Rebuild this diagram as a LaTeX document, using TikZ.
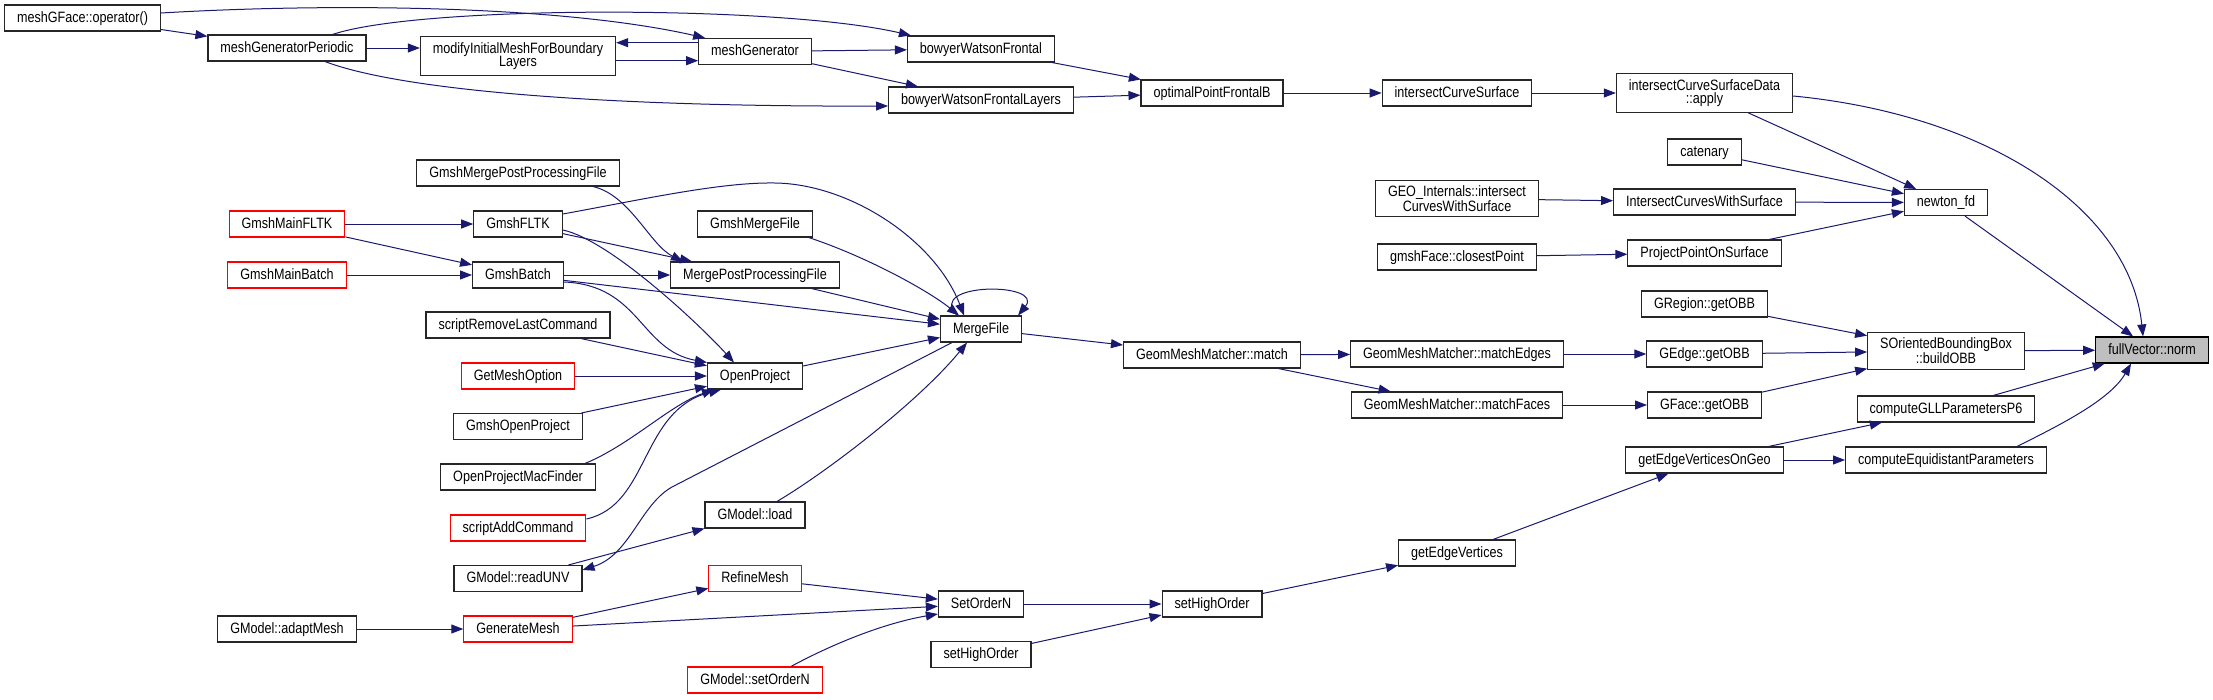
\documentclass[tikz,border=0pt]{standalone}
\usepackage{fontspec}
\setmainfont{Liberation Sans}[FakeStretch=0.84]
\usepackage{tikz}
\usetikzlibrary{arrows.meta, positioning, calc}
\usepackage{xcolor}
\definecolor{edgeblue}{HTML}{191970}
\definecolor{rootgray}{HTML}{BFBFBF}
\tikzstyle{fn} = [rectangle, draw=black!85, line width=1.1pt, fill=white, minimum height=26pt, inner xsep=12.5pt, inner ysep=6pt, text height=11pt, text depth=3pt, font=\fontsize{15}{13.5}\selectfont]
\tikzstyle{fntwo} = [rectangle, draw=black!85, line width=1.1pt, fill=white, inner xsep=12.5pt, inner ysep=5.5pt, align=center, font=\fontsize{15}{13.5}\selectfont]
\tikzstyle{fnred} = [fn, draw=red]
\tikzstyle{root} = [fn, draw=black, fill=rootgray]
\tikzstyle{arrow} = [line width=1pt, draw=edgeblue, -{Triangle[length=12pt,width=9pt]}]

\begin{document}
\begin{tikzpicture}[x=1pt, y=-1pt]
        \useasboundingbox (0,0) rectangle (2213,699);

        % Mesh generators
        \node (mgfop) [fn] at (82.5,18) {meshGFace::operator()};
        \node (mgperiodic) [fn] at (287,48) {meshGeneratorPeriodic};
        \node (modinit) [fntwo] at (518,56) {modifyInitialMeshForBoundary\\Layers};
        \node (meshgen) [fn] at (755,51.5) {meshGenerator};
        \node (bwfrontal) [fn] at (981,49) {bowyerWatsonFrontal};
        \node (bwlayers) [fn] at (981,100) {bowyerWatsonFrontalLayers};
        \node (optfrontal) [fn] at (1212,93) {optimalPointFrontalB};
        \node (icsurf) [fn] at (1457,93) {intersectCurveSurface};
        \node (icsapply) [fntwo] at (1704.5,93) {intersectCurveSurfaceData\\::apply};

        % GUI and batch callers
        \node (mainfltk) [fnred] at (287,224) {GmshMainFLTK};
        \node (mainbatch) [fnred] at (287,275) {GmshMainBatch};
        \node (adaptmesh) [fn] at (287,629) {GModel::adaptMesh};
        \node (gmergepost) [fn] at (518,173) {GmshMergePostProcessingFile};
        \node (gfltk) [fn] at (518,224) {GmshFLTK};
        \node (gbatch) [fn] at (518,275) {GmshBatch};
        \node (srmlast) [fn] at (518,325) {scriptRemoveLastCommand};
        \node (getmeshopt) [fnred] at (518,376) {GetMeshOption};
        \node (gopenproj) [fn] at (518,426.5) {GmshOpenProject};
        \node (opmacfinder) [fn] at (518,477) {OpenProjectMacFinder};
        \node (saddcmd) [fnred] at (518,528) {scriptAddCommand};
        \node (readunv) [fn] at (518,578.5) {GModel::readUNV};
        \node (genmesh) [fnred] at (518,629) {GenerateMesh};
        \node (gmergefile) [fn] at (755,224) {GmshMergeFile};
        \node (mergepost) [fn] at (755,275) {MergePostProcessingFile};
        \node (openproj) [fn] at (755,376) {OpenProject};
        \node (gmload) [fn] at (755,515) {GModel::load};
        \node (refine) [fnred] at (755,578.5) {RefineMesh};
        \node (gmsetorder) [fnred] at (755,680) {GModel::setOrderN};
        \node (mergefile) [fn] at (981,329) {MergeFile};
        \node (setordern) [fn] at (981,604) {SetOrderN};
        \node (sethob) [fn] at (981,654.5) {setHighOrder};
        \node (gmmmatch) [fn] at (1212,355) {GeomMeshMatcher::match};
        \node (sethoa) [fn] at (1212,604) {setHighOrder};

        % Geometry side
        \node (geoint) [fntwo] at (1457,198.5) {GEO\_Internals::intersect\\CurvesWithSurface};
        \node (gfclosest) [fn] at (1457,257) {gmshFace::closestPoint};
        \node (matchedges) [fn] at (1457,354) {GeomMeshMatcher::matchEdges};
        \node (matchfaces) [fn] at (1457,405) {GeomMeshMatcher::matchFaces};
        \node (getedgev) [fn] at (1457,553) {getEdgeVertices};
        \node (catenary) [fn] at (1704.5,152) {catenary};
        \node (icws) [fn] at (1704.5,202) {IntersectCurvesWithSurface};
        \node (projpt) [fn] at (1704.5,253) {ProjectPointOnSurface};
        \node (gregobb) [fn] at (1704.5,304) {GRegion::getOBB};
        \node (gedgeobb) [fn] at (1704.5,354) {GEdge::getOBB};
        \node (gfaceobb) [fn] at (1704.5,405) {GFace::getOBB};
        \node (getedgevgeo) [fn] at (1704.5,460) {getEdgeVerticesOnGeo};
        \node (newtonfd) [fn] at (1946,202.5) {newton\_fd};
        \node (sobb) [fntwo] at (1946,351) {SOrientedBoundingBox\\::buildOBB};
        \node (gllp6) [fn] at (1946,409) {computeGLLParametersP6};
        \node (equidist) [fn] at (1946,460) {computeEquidistantParameters};
        \node (fvnorm) [root] at (2152,350) {fullVector::norm};

        % Connections mesh generators
        \draw [arrow] (mgfop) -- (mgperiodic);
        \draw [arrow] ([yshift=5pt]mgfop.east) .. controls (330,3) and (560,5) .. ([xshift=7pt]meshgen.north west);
        \draw [arrow] ([xshift=-34pt]mgperiodic.north east) .. controls (420,5) and (780,5) .. ([xshift=4pt]bwfrontal.north west);
        \draw [arrow] (mgperiodic.east) -- (mgperiodic.east -| modinit.west);
        \draw [arrow] ([xshift=38pt]mgperiodic.south) .. controls (400,90) and (600,107) .. ([yshift=-6pt]bwlayers.west);
        \draw [arrow] ([yshift=8.8pt]meshgen.west) -- ([yshift=8.8pt]meshgen.west -| modinit.east);
        \draw [arrow] ([yshift=-9.2pt]meshgen.west -| modinit.east) -- ([yshift=-9.2pt]meshgen.west);
        \draw [arrow] (meshgen) -- (bwfrontal);
        \draw [arrow] (meshgen) -- (bwlayers);
        \draw [arrow] (bwfrontal) -- (optfrontal);
        \draw [arrow] (bwlayers) -- (optfrontal);
        \draw [arrow] (optfrontal) -- (icsurf);
        \draw [arrow] (icsurf) -- (icsapply);

        % Connections newton_fd
        \draw [arrow] (icsapply) -- (newtonfd);
        \draw [arrow] (catenary) -- (newtonfd);
        \draw [arrow] (icws) -- (newtonfd);
        \draw [arrow] (projpt) -- (newtonfd);
        \draw [arrow] (geoint) -- (icws);
        \draw [arrow] (gfclosest) -- (projpt);

        % Connections fullVector::norm
        \draw [arrow] ([yshift=-3pt]icsapply.east) .. controls (1990,115) and (2130,210) .. ([xshift=-9pt]fvnorm.north);
        \draw [arrow] (newtonfd) -- (fvnorm);
        \draw [arrow] (sobb) -- (fvnorm);
        \draw [arrow] (gllp6) -- (fvnorm);
        \draw [arrow] ([xshift=71pt]equidist.north) .. controls (2060,425) and (2110,400) .. ([xshift=-21pt]fvnorm.south);

        % Connections bounding box
        \draw [arrow] (gregobb) -- (sobb);
        \draw [arrow] (gedgeobb) -- (sobb);
        \draw [arrow] (gfaceobb) -- (sobb);
        \draw [arrow] (matchedges) -- (gedgeobb);
        \draw [arrow] (matchfaces) -- (gfaceobb);
        \draw [arrow] (gmmmatch) -- (matchedges);
        \draw [arrow] (gmmmatch) -- (matchfaces);
        \draw [arrow] (mergefile) -- (gmmmatch);
        \draw [arrow] ([xshift=-24pt]mergefile.north) .. controls (925,282) and (1045,282) .. ([xshift=-4pt]mergefile.north east);

        % Connections MergeFile
        \draw [arrow] ([yshift=10pt]gfltk.east) .. controls (640,200) and (720,182) .. (775,183) .. controls (850,184) and (935,240) .. ([xshift=-17pt]mergefile.north);
        \draw [arrow] ([xshift=-4pt]gmergefile.south east) .. controls (870,258) and (930,292) .. ([xshift=-22pt]mergefile.north);
        \draw [arrow] (mergepost) -- (mergefile);
        \draw [arrow] (gbatch) -- (mergefile);
        \draw [arrow] (openproj) -- (mergefile);
        \draw [arrow] ([xshift=22pt]gmload.north) .. controls (830,470) and (920,400) .. ([xshift=-14pt]mergefile.south);
        \draw [arrow] ([xshift=-29pt]mergefile.south) -- (672,487) .. controls (640,505) and (630,555) .. ([yshift=-5pt]readunv.north east);
        \draw [arrow] (readunv) -- (gmload);

        % Connections GUI and batch
        \draw [arrow] (mainfltk) -- (gfltk);
        \draw [arrow] (mainfltk) -- (gbatch);
        \draw [arrow] (mainbatch) -- (gbatch);
        \draw [arrow] ([xshift=75pt]gmergepost.south) .. controls (630,195) and (650,245) .. ([xshift=-72pt]mergepost.north);
        \draw [arrow] (gfltk) -- (mergepost);
        \draw [arrow] (gbatch) -- (mergepost);
        \draw [arrow] ([yshift=-6pt]gfltk.east) .. controls (610,240) and (700,325) .. ([xshift=-21pt]openproj.north);
        \draw [arrow] ([yshift=-7pt]gbatch.east) .. controls (640,285) and (640,350) .. (openproj.north west);

        % Connections OpenProject
        \draw [arrow] (srmlast) -- (openproj);
        \draw [arrow] (getmeshopt) -- (openproj);
        \draw [arrow] (gopenproj) -- (openproj);
        \draw [arrow] ([xshift=67pt]opmacfinder.north) .. controls (630,445) and (670,405) .. ([xshift=-41pt]openproj.south);
        \draw [arrow] ([yshift=9pt]saddcmd.east) .. controls (650,505) and (640,410) .. ([xshift=-34pt]openproj.south);

        % Connections high order
        \draw [arrow] (adaptmesh) -- (genmesh);
        \draw [arrow] (genmesh) -- (refine);
        \draw [arrow] (genmesh) -- (setordern);
        \draw [arrow] (refine) -- (setordern);
        \draw [arrow] ([xshift=36pt]gmsetorder.north) .. controls (840,640) and (890,622) .. ([yshift=-10pt]setordern.west);
        \draw [arrow] (setordern) -- (sethoa);
        \draw [arrow] (sethob) -- (sethoa);
        \draw [arrow] (sethoa) -- (getedgev);
        \draw [arrow] (getedgev) -- (getedgevgeo);
        \draw [arrow] (getedgevgeo) -- (gllp6);
        \draw [arrow] (getedgevgeo) -- (equidist);
    \end{tikzpicture}
\end{document}
